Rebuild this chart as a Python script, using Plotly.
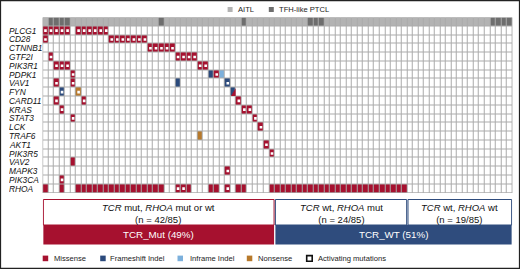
import plotly.graph_objects as go

W, H = 520, 269

# ---------------- data ----------------
genes = ["PLCG1", "CD28", "CTNNB1", "GTF2I", "PIK3R1", "PDPK1", "VAV1", "FYN",
         "CARD11", "KRAS", "STAT3", "LCK", "TRAF6", "AKT1", "PIK3R5", "VAV2",
         "MAPK3", "PIK3CA", "RHOA"]

# per gene: "<sample or range><code>"; M missense, F frameshift indel, I inframe indel,
# N nonsense, X frameshift + missense; lower case = activating mutation
gene_events = [
    "0-4m 6-11m",
    "0m 12-18m",
    "19-23m",
    "1m 24-27m",
    "2-4m 28-29m",
    "5m 30F 31m 32I",
    "2m 5m 24F 33f",
    "3f 6n 34X",
    "2m 7m 35m",
    "3m 36-37m",
    "5m 38m",
    "39m",
    "28N",
    "40m",
    "41m",
    "5M",
    "33m",
    "3m",
    "0M 3M 6-21M 24-25m 26M 30-31M 33m 35-36M 41-65M",
]

n_samples = 85
tfh_like_samples = [1, 2, 3, 4, 21, 36, 48, 49, 50, 81, 82, 83, 84]
histology_names = ["AITL", "TFH-like PTCL"]

group_labels = ["<i>TCR</i> mut, <i>RHOA</i> mut or wt",
                "<i>TCR</i> wt, <i>RHOA</i> mut",
                "<i>TCR</i> wt, <i>RHOA</i> wt"]
group_counts = ["(n = 42/85)", "(n = 24/85)", "(n = 19/85)"]
group_sizes = [42, 24, 19]
class_labels = ["TCR_Mut (49%)", "TCR_WT (51%)"]
class_sizes = [42, 43]
mutation_types = ["Missense", "Frameshift Indel", "Inframe Indel", "Nonsense"]
activating_label = "Activating mutations"

# ---------------- styles ----------------
FONT = "Liberation Sans, Arial, Helvetica, sans-serif"
C_MIS = "#a6112f"
C_FS = "#2b4a7c"
C_INF = "#7cb0dc"
C_NON = "#b7792b"
C_AITL = "#b3b3b3"
C_TFH = "#6e6e6e"
C_GRID = "#ababab"
C_WT = "#2f4c7d"
type_colors = [C_MIS, C_FS, C_INF, C_NON]
code_value = {"M": 1, "F": 2, "I": 3, "N": 4, "X": 2}

def px_x(p):
    return p / W

def px_y(p):
    return 1 - p / H

# ---------------- matrix ----------------
n_rows = len(genes) + 1
z = [[0] * n_samples for _ in range(n_rows)]
for s in range(n_samples):
    z[0][s] = 6 if s in tfh_like_samples else 5

dots_x, dots_y, doubles = [], [], []
for gi, ev in enumerate(gene_events):
    r = gi + 1
    for tok in ev.split():
        code, idx = tok[-1], tok[:-1]
        if "-" in idx:
            a, b = map(int, idx.split("-"))
            cols = range(a, b + 1)
        else:
            cols = [int(idx)]
        for c in cols:
            z[r][c] = code_value[code.upper()]
            if code.islower():
                dots_x.append(c)
                dots_y.append(r)
            if code.upper() == "X":
                doubles.append((c, r))

palette = ["#ffffff", C_MIS, C_FS, C_INF, C_NON, C_AITL, C_TFH]
cs = []
nP = len(palette)
for i, col in enumerate(palette):
    cs.append([i / nP, col])
    cs.append([(i + 1) / nP, col])

fig = go.Figure()
fig.add_trace(go.Heatmap(
    z=z, x=list(range(n_samples)), y=list(range(n_rows)),
    colorscale=cs, zmin=-0.5, zmax=nP - 0.5, showscale=False,
    xgap=1, ygap=1, hoverinfo="skip"))

fig.add_trace(go.Scatter(
    x=dots_x, y=dots_y, mode="markers",
    marker=dict(symbol="square", size=2.6, color="white", line=dict(width=0)),
    hoverinfo="skip", showlegend=False))

shapes = []
# double hit cells: lower-right triangle missense
for c, r in doubles:
    shapes.append(dict(type="path", xref="x", yref="y",
                       path=f"M {c+0.42},{r-0.44} L {c+0.42},{r+0.44} L {c-0.42},{r+0.44} Z",
                       fillcolor=C_MIS, line=dict(width=0)))

# outer grid border
shapes.append(dict(type="rect", xref="x", yref="y", x0=-0.5, x1=n_samples - 0.5,
                   y0=-0.5, y1=n_rows - 0.5, line=dict(color=C_GRID, width=1)))

annotations = []
# gene labels
for gi, g in enumerate(genes):
    annotations.append(dict(x=px_x(6.5), y=gi + 1, xref="paper", yref="y",
                            text=f"<i>{g}</i>", showarrow=False, xanchor="left",
                            yanchor="middle", height=8.4, valign="middle",
                            font=dict(family=FONT, size=8.4, color="#111")))

# group boxes
box_top, box_mid, box_bot = px_y(199.5), px_y(225), px_y(244.5)
start = -0.5
for gi, (lab, cnt, size) in enumerate(zip(group_labels, group_counts, group_sizes)):
    x0, x1 = start, start + size
    border = C_MIS if gi == 0 else C_WT
    shapes.append(dict(type="rect", xref="x", yref="paper", x0=x0 + 0.12, x1=x1 - 0.12,
                       y0=box_mid, y1=box_top, line=dict(color=border, width=1),
                       fillcolor="white"))
    annotations.append(dict(x=(x0 + x1) / 2, y=px_y(213), xref="x", yref="paper",
                            text=f"{lab}<br>{cnt}", showarrow=False,
                            font=dict(family=FONT, size=9.5, color="#111"),
                            xanchor="center", yanchor="middle"))
    start = x1

start = -0.5
for ci, (lab, size) in enumerate(zip(class_labels, class_sizes)):
    x0, x1 = start, start + size
    col = C_MIS if ci == 0 else C_WT
    shapes.append(dict(type="rect", xref="x", yref="paper", x0=x0 + 0.12, x1=x1 - 0.12,
                       y0=box_bot, y1=box_mid, line=dict(width=0), fillcolor=col))
    annotations.append(dict(x=(x0 + x1) / 2, y=px_y(234.8), xref="x", yref="paper",
                            text=lab, showarrow=False,
                            font=dict(family=FONT, size=9.8, color="white"),
                            xanchor="center", yanchor="middle"))
    start = x1

# bottom legend
leg_box_x = [42.7, 100.2, 177.5, 246.8, 306.7]
leg_text_x = [51.5, 108.2, 187.8, 256.3, 316.0]
leg_y = 258.4
leg_labels = mutation_types + [activating_label]
leg_cols = type_colors + ["white"]
for i, (lab, colr) in enumerate(zip(leg_labels, leg_cols)):
    bx = leg_box_x[i]
    is_act = i == len(leg_labels) - 1
    shapes.append(dict(type="rect", xref="paper", yref="paper",
                       x0=px_x(bx), x1=px_x(bx + 5.5), y0=px_y(leg_y + 2.8), y1=px_y(leg_y - 2.8),
                       fillcolor=colr,
                       line=dict(color="#111" if is_act else colr, width=1.6 if is_act else 0)))
    annotations.append(dict(x=px_x(leg_text_x[i]), y=px_y(leg_y), xref="paper", yref="paper",
                            text=lab, showarrow=False, xanchor="left", yanchor="middle",
                            font=dict(family=FONT, size=7.6, color="#222")))

# top legend
top_box_x = [227.6, 268.8]
top_text_x = [236.2, 277.0]
top_y = 9.5
for i, (lab, colr) in enumerate(zip(histology_names, [C_AITL, C_TFH])):
    bx = top_box_x[i]
    shapes.append(dict(type="rect", xref="paper", yref="paper",
                       x0=px_x(bx), x1=px_x(bx + 5), y0=px_y(top_y + 2.5), y1=px_y(top_y - 2.5),
                       fillcolor=colr, line=dict(width=0)))
    annotations.append(dict(x=px_x(top_text_x[i]), y=px_y(top_y), xref="paper", yref="paper",
                            text=lab, showarrow=False, xanchor="left", yanchor="middle",
                            font=dict(family=FONT, size=7.6, color="#222")))

# outer frame
shapes.append(dict(type="rect", xref="paper", yref="paper", x0=0.001, x1=0.999,
                   y0=0.002, y1=0.998, line=dict(color="#222", width=1.2)))

fig.update_layout(
    width=W, height=H, margin=dict(l=0, r=0, t=0, b=0),
    paper_bgcolor="white", plot_bgcolor=C_GRID, showlegend=False,
    xaxis=dict(domain=[px_x(42.7), px_x(512.3)], range=[-0.5, n_samples - 0.5],
               visible=False, fixedrange=True),
    yaxis=dict(domain=[px_y(193.0), px_y(17.5)], range=[n_rows - 0.5, -0.5],
               visible=False, fixedrange=True),
    shapes=shapes, annotations=annotations,
)

fig.write_html("out.html", config={"displayModeBar": False, "staticPlot": True},
               post_script="document.body.style.margin='0';document.body.style.overflow='hidden';")
